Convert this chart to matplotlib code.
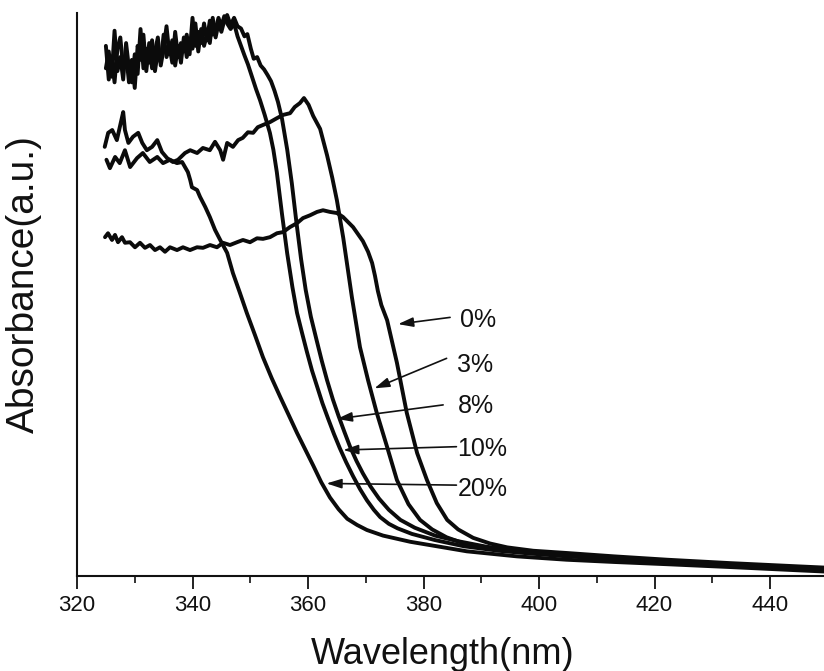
import matplotlib
matplotlib.use("Agg")
import matplotlib.pyplot as plt

plt.rcParams['font.family'] = ['Liberation Sans', 'DejaVu Sans']

# ---- UV-Vis absorbance spectra (arbitrary units), one per doping level ----
wl_0 = [324.85, 325.37, 326.06, 326.58, 327.10, 327.79, 328.31, 329.18, 330.04, 330.91,
        331.77, 332.64, 333.51, 334.37, 335.24, 336.10, 337.32, 338.35, 339.57, 340.78,
        341.82, 343.03, 344.24, 345.28, 346.49, 347.71, 348.74, 349.96, 351.17, 352.21,
        353.42, 354.63, 355.67, 356.88, 358.10, 359.13, 360.35, 361.56, 362.60, 363.81,
        365.02, 366.06, 367.8, 369.5, 370.4, 371.1, 371.6, 372.1, 372.7, 373.7,
        375.4, 377.1, 378.9, 380.6, 382.3, 384.1, 386.0, 388.6, 391.5, 394.5,
        399.0, 404.8, 413.0, 422.2, 433.0, 445.2, 449.4]
abs_0 = [0.604, 0.611, 0.599, 0.608, 0.595, 0.604, 0.594, 0.595, 0.586, 0.594,
         0.585, 0.590, 0.581, 0.586, 0.578, 0.586, 0.581, 0.586, 0.581, 0.586,
         0.585, 0.590, 0.586, 0.594, 0.590, 0.595, 0.599, 0.595, 0.602, 0.601,
         0.604, 0.611, 0.613, 0.622, 0.629, 0.638, 0.643, 0.649, 0.652, 0.649,
         0.647, 0.640, 0.622, 0.597, 0.578, 0.558, 0.535, 0.508, 0.483, 0.456,
         0.380, 0.291, 0.219, 0.171, 0.130, 0.100, 0.083, 0.068, 0.058, 0.051,
         0.045, 0.041, 0.035, 0.029, 0.023, 0.017, 0.015]

wl_3 = [324.8, 325.4, 326.1, 326.9, 327.8, 328.0, 328.3, 328.9, 329.7, 330.6,
        331.3, 332.1, 333.0, 333.9, 334.7, 335.6, 336.6, 337.5, 338.7, 339.6,
        340.8, 341.8, 343.0, 343.9, 344.8, 345.3, 346.0, 347.0, 347.9, 348.7,
        349.6, 350.5, 351.3, 352.2, 353.4, 354.6, 355.7, 356.9, 357.7, 358.6,
        359.3, 360.1, 360.9, 362.1, 363.3, 364.2, 365.0, 366.1, 367.6, 369.0,
        370.4, 371.9, 373.7, 375.4, 377.4, 379.4, 381.5, 384.0, 387.0, 392.0,
        398.0, 404.8, 413.0, 422.2, 433.0, 445.2, 449.4]
abs_3 = [0.765, 0.790, 0.795, 0.777, 0.818, 0.827, 0.795, 0.772, 0.783, 0.790,
         0.772, 0.759, 0.765, 0.777, 0.756, 0.745, 0.738, 0.742, 0.754, 0.759,
         0.754, 0.763, 0.759, 0.774, 0.759, 0.742, 0.772, 0.765, 0.777, 0.781,
         0.791, 0.790, 0.800, 0.804, 0.809, 0.816, 0.822, 0.825, 0.836, 0.843,
         0.852, 0.840, 0.820, 0.797, 0.750, 0.710, 0.670, 0.603, 0.497, 0.408,
         0.349, 0.291, 0.230, 0.171, 0.128, 0.100, 0.083, 0.069, 0.058, 0.049,
         0.043, 0.039, 0.033, 0.027, 0.021, 0.014, 0.012]

wl_8 = [325.0, 325.5, 326.0, 326.5, 327.0, 327.5, 328.0, 328.5, 329.0, 329.5,
        330.0, 330.5, 331.0, 331.5, 332.0, 332.5, 333.0, 333.5, 334.0, 334.5,
        335.0, 335.5, 336.0, 336.5, 337.0, 337.5, 338.0, 338.5, 339.0, 339.5,
        340.0, 340.5, 341.0, 341.5, 342.0, 342.5, 343.0, 343.5, 344.0, 344.5,
        345.0, 345.5, 346.0, 346.6, 347.2, 347.8, 348.4, 349.0, 349.5, 350.1,
        350.6, 351.2, 351.8, 352.4, 353.0, 353.6, 354.2, 354.8, 355.5, 356.4,
        357.2, 358.0, 358.8, 359.6, 360.5, 361.5, 362.4, 363.3, 364.3, 365.3,
        366.3, 367.3, 368.4, 369.5, 370.8, 372.3, 374.0, 376.0, 378.5, 382.0,
        386.0, 391.0, 397.0, 404.8, 413.0, 422.2, 433.0, 445.2, 449.4]
abs_8 = [0.945, 0.885, 0.925, 0.880, 0.940, 0.960, 0.905, 0.930, 0.880, 0.920,
         0.870, 0.945, 0.920, 0.965, 0.900, 0.950, 0.905, 0.935, 0.960, 0.910,
         0.940, 0.980, 0.930, 0.955, 0.910, 0.945, 0.915, 0.960, 0.925, 0.950,
         0.940, 0.985, 0.935, 0.975, 0.945, 0.965, 0.950, 0.995, 0.960, 0.985,
         0.970, 0.990, 1.000, 0.982, 0.995, 0.980, 0.976, 0.962, 0.966, 0.940,
         0.922, 0.925, 0.910, 0.903, 0.893, 0.882, 0.865, 0.845, 0.815, 0.760,
         0.700, 0.630, 0.565, 0.510, 0.462, 0.420, 0.383, 0.349, 0.315, 0.285,
         0.257, 0.230, 0.205, 0.183, 0.160, 0.138, 0.118, 0.100, 0.086, 0.072,
         0.062, 0.052, 0.045, 0.038, 0.032, 0.027, 0.021, 0.014, 0.012]

wl_10 = [325.0, 325.5, 326.0, 326.5, 327.0, 327.5, 328.0, 328.5, 329.0, 329.5,
         330.0, 330.5, 331.0, 331.5, 332.0, 332.5, 333.0, 333.5, 334.0, 334.5,
         335.0, 335.5, 336.0, 336.5, 337.0, 337.5, 338.0, 338.5, 339.0, 339.5,
         340.0, 340.5, 341.0, 341.5, 342.0, 342.5, 343.0, 343.5, 344.0, 344.5,
         345.0, 345.5, 346.0, 346.6, 347.2, 347.8, 348.4, 349.0, 349.6, 350.3,
         351.0, 351.7, 352.5, 353.4, 354.0, 354.6, 355.5, 356.4, 357.3, 358.1,
         359.0, 359.8, 360.7, 361.6, 362.5, 363.5, 364.5, 365.5, 366.6, 367.8,
         369.0, 370.2, 371.4, 372.5, 374.0, 375.5, 378.0, 382.0, 387.0, 393.0,
         398.5, 404.8, 413.0, 422.2, 433.0, 445.2, 449.4]
abs_10 = [0.905, 0.935, 0.890, 0.972, 0.900, 0.925, 0.885, 0.950, 0.905, 0.880,
          0.930, 0.895, 0.975, 0.905, 0.940, 0.915, 0.955, 0.900, 0.935, 0.915,
          0.965, 0.925, 0.945, 0.915, 0.970, 0.925, 0.950, 0.935, 0.965, 0.930,
          0.995, 0.945, 0.970, 0.950, 0.985, 0.955, 0.990, 0.965, 0.975, 0.995,
          0.980, 0.998, 0.985, 0.975, 0.985, 0.962, 0.945, 0.928, 0.912, 0.890,
          0.868, 0.848, 0.822, 0.790, 0.760, 0.720, 0.645, 0.575, 0.515, 0.469,
          0.432, 0.400, 0.366, 0.337, 0.308, 0.280, 0.253, 0.228, 0.203, 0.178,
          0.155, 0.135, 0.118, 0.105, 0.093, 0.085, 0.075, 0.064, 0.053, 0.045,
          0.040, 0.035, 0.030, 0.025, 0.019, 0.012, 0.010]

wl_20 = [325.1, 325.7, 326.6, 327.4, 328.3, 329.2, 330.4, 331.4, 332.6, 333.9,
         334.9, 336.1, 337.3, 338.2, 338.7, 339.2, 339.6, 339.9, 340.8, 341.3,
         342.2, 343.0, 343.9, 344.8, 346.0, 347.0, 348.2, 349.4, 350.8, 352.2,
         353.7, 355.2, 356.7, 358.1, 359.5, 360.9, 362.3, 363.8, 365.3, 366.8,
         368.5, 370.2, 373.0, 377.7, 382.9, 387.5, 396.2, 404.8, 413.0, 422.2,
         433.0, 445.2, 449.4]
abs_20 = [0.742, 0.727, 0.747, 0.736, 0.759, 0.729, 0.745, 0.754, 0.738, 0.747,
          0.736, 0.742, 0.736, 0.738, 0.729, 0.720, 0.706, 0.693, 0.688, 0.676,
          0.658, 0.640, 0.617, 0.599, 0.576, 0.540, 0.505, 0.469, 0.430, 0.390,
          0.353, 0.319, 0.286, 0.255, 0.226, 0.197, 0.167, 0.140, 0.119, 0.102,
          0.091, 0.082, 0.072, 0.061, 0.052, 0.044, 0.035, 0.029, 0.025, 0.021,
          0.016, 0.010, 0.008]

series = [(wl_0, abs_0), (wl_3, abs_3), (wl_8, abs_8), (wl_10, abs_10), (wl_20, abs_20)]

# Curve labels: text, label anchor (left, baseline), arrow tail, arrow head
labels = ['0%', '3%', '8%', '10%', '20%']
label_pos = [(386.3, 0.444), (385.8, 0.364), (386.0, 0.291), (385.8, 0.214), (386.0, 0.143)]
arrow_tail = [(384.6, 0.461), (384.0, 0.388), (383.4, 0.305), (385.7, 0.2305), (385.7, 0.162)]
arrow_head = [(375.6, 0.449), (371.5, 0.3345), (365.0, 0.280), (366.1, 0.2246), (363.2, 0.165)]

x_major = [320, 340, 360, 380, 400, 420, 440]
x_minor = [330, 350, 370, 390, 410, 430]

fig = plt.figure(figsize=(8.24, 6.71), dpi=100)
ax = fig.add_axes([77 / 824, 1 - 576 / 671, 747 / 824, 563 / 671])

for wl, ab in series:
    ax.plot(wl, ab, color='#0b0b0b', lw=2.8, solid_joinstyle='round',
            solid_capstyle='round', clip_on=False)

for text, (tx, ty), tail, head in zip(labels, label_pos, arrow_tail, arrow_head):
    ax.annotate('', xy=head, xytext=tail,
                arrowprops=dict(arrowstyle='-|>,head_length=0.7,head_width=0.22',
                                lw=1.2, color='#111111', shrinkA=0, shrinkB=0,
                                mutation_scale=13))
    ax.text(tx, ty, text, fontsize=18, ha='left', va='baseline', color='#111111')

ax.set_xlim(320, 449.35)
ax.set_ylim(0, 1.0036)

for side in ('top', 'right'):
    ax.spines[side].set_visible(False)
for side in ('left', 'bottom'):
    ax.spines[side].set_linewidth(1.5)
    ax.spines[side].set_color('#111111')

ax.set_xticks(x_major)
ax.set_xticks(x_minor, minor=True)
ax.set_yticks([])
ax.tick_params(axis='x', which='major', direction='out', length=9, width=1.3,
               labelsize=16, pad=5, colors='#111111')
ax.tick_params(axis='x', which='minor', direction='out', length=5, width=1.2,
               colors='#111111')

ax.set_xlabel('Wavelength(nm)', fontsize=26, color='#111111')
ax.xaxis.set_label_coords(0.49, -0.108)
ax.set_ylabel('Absorbance(a.u.)', fontsize=28, color='#111111')
ax.yaxis.set_label_coords(-0.047, 0.519)

fig.savefig('out.png', dpi=100)
